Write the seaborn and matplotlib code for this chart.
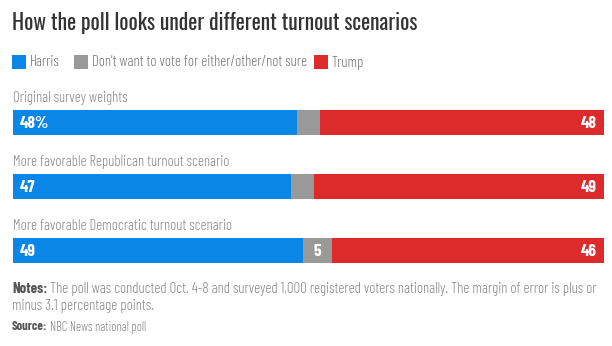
import matplotlib
matplotlib.use("Agg")
import matplotlib.pyplot as plt
from matplotlib import font_manager
from matplotlib.font_manager import FontProperties
import seaborn as sns
import pandas as pd

# ---- data ----
scenarios = ["Original survey weights",
             "More favorable Republican turnout scenario",
             "More favorable Democratic turnout scenario"]
harris = [48, 47, 49]
other = [4, 4, 5]
trump = [48, 49, 46]
series_names = ["Harris", "Don't want to vote for either/other/not sure", "Trump"]
other_labels = ["", "", "5"]

colors = {"Harris": "#0a87e6", "Other": "#999999", "Trump": "#dd2a2b"}

sns.set_theme(style="white")

fonts = font_manager.fontManager.ttflist
names = {f.name for f in fonts}
BASE = next(f for f in ["Oswald", "Roboto Condensed", "DejaVu Sans"] if f in names)
plt.rcParams["font.family"] = [BASE, "DejaVu Sans"]
oswald = [f for f in fonts if f.name.startswith("Oswald")]


def weight_num(w):
    if isinstance(w, int):
        return w
    table = {"light": 300, "normal": 400, "regular": 400, "medium": 500,
             "semibold": 600, "bold": 700}
    return table.get(str(w).lower(), 400)


def face(weight, alt):
    """Condensed face of the wanted weight, with a condensed fallback family."""
    for f in oswald:
        if abs(weight_num(f.weight) - weight) <= 50 and "italic" not in f.style:
            return FontProperties(fname=f.fname)
    if alt in names:
        return FontProperties(family=alt, weight=weight)
    return FontProperties(family=BASE, weight=weight)


F_TITLE = face(400, "Oswald")
F_LIGHT = face(300, "Barlow Condensed")
F_BOLD = face(700, "Barlow Condensed")

W, H = 612, 346
fig = plt.figure(figsize=(W / 100, H / 100), dpi=100)


def fx(px):
    return px / W


def fy(py):
    return 1 - py / H


def fp(base, size):
    p = base.copy()
    p.set_size(size)
    return p


# bar axes: bar centers at 122.5, 186.5, 250.5 px, row pitch 64 px
left_px, right_px = 13, 604
top_px, bot_px = 90.5, 282.5
ax = fig.add_axes([fx(left_px), fy(bot_px), fx(right_px - left_px), (bot_px - top_px) / H])

df = pd.DataFrame({"scenario": scenarios, "harris": harris, "other": other, "trump": trump})
df["h_o"] = df["harris"] + df["other"]
df["total"] = df["h_o"] + df["trump"]

bw = 24.5 / 64
sns.barplot(data=df, y="scenario", x="total", color=colors["Trump"], orient="h",
            width=bw, ax=ax, saturation=1, linewidth=0)
sns.barplot(data=df, y="scenario", x="h_o", color=colors["Other"], orient="h",
            width=bw, ax=ax, saturation=1, linewidth=0)
sns.barplot(data=df, y="scenario", x="harris", color=colors["Harris"], orient="h",
            width=bw, ax=ax, saturation=1, linewidth=0)

ax.set_xlim(0, 100)
ax.set_ylim(2.5, -0.5)
ax.axis("off")

lab_kw = dict(color="white", fontproperties=fp(F_BOLD, 12.5), va="center")
for i, s in enumerate(scenarios):
    # scenario caption above each bar
    ax.text(0, i - 0.39, s, color="#8a8a8a", fontproperties=fp(F_LIGHT, 10.7),
            va="center", ha="left")
    hl = f"{harris[i]}%" if i == 0 else f"{harris[i]}"
    ax.text(1.2, i + 0.01, hl, ha="left", **lab_kw)
    ax.text(98.8, i + 0.01, f"{trump[i]}", ha="right", **lab_kw)
    if other_labels[i]:
        ax.text(harris[i] + other[i] / 2, i + 0.01, other_labels[i], ha="center", **lab_kw)

# title
fig.text(fx(12), fy(22.5), "How the poll looks under different turnout scenarios",
         fontproperties=fp(F_TITLE, 15.5), color="#333333", va="center", ha="left")

# legend
leg_x = [12, 74, 314]
for x0, name, c in zip(leg_x, series_names, colors.values()):
    fig.patches.append(plt.Rectangle((fx(x0), fy(69)), fx(14), 14 / H, transform=fig.transFigure,
                                     facecolor=c, edgecolor="none"))
    fig.text(fx(x0 + 17.5), fy(62.5), name, fontproperties=fp(F_LIGHT, 10.7), color="#777777",
             va="center", ha="left")

# notes and source
note_y1, note_y2, src_y = 289, 306, 327
t = fig.text(fx(12), fy(note_y1), "Notes:", fontproperties=fp(F_BOLD, 10.7), color="#555555",
             va="center", ha="left")
fig.canvas.draw()
bb = t.get_window_extent()
fig.text(bb.x1 / W + fx(3), fy(note_y1),
         "The poll was conducted Oct. 4-8 and surveyed 1,000 registered voters nationally. "
         "The margin of error is plus or",
         fontproperties=fp(F_LIGHT, 10.7), color="#888888", va="center", ha="left")
fig.text(fx(12), fy(note_y2), "minus 3.1 percentage points.", fontproperties=fp(F_LIGHT, 10.7),
         color="#888888", va="center", ha="left")
s = fig.text(fx(12), fy(src_y), "Source:", fontproperties=fp(F_BOLD, 9.1), color="#555555",
             va="center", ha="left")
fig.canvas.draw()
bb = s.get_window_extent()
fig.text(bb.x1 / W + fx(2.5), fy(src_y), "NBC News national poll",
         fontproperties=fp(F_LIGHT, 9.1), color="#888888", va="center", ha="left")

fig.savefig("out.png", dpi=100)
